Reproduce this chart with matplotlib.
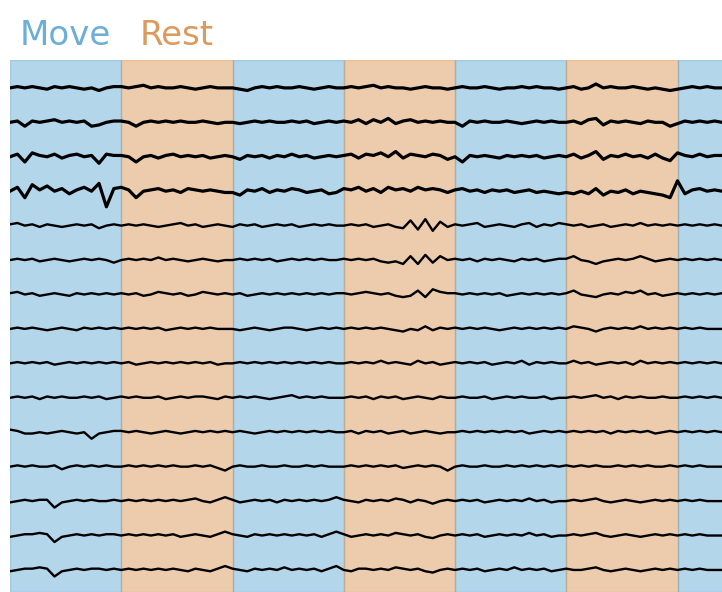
import numpy as np
import matplotlib.pyplot as plt

# block layout (seconds)
block_len = 5
blocks = ['Move', 'Rest', 'Move', 'Rest', 'Move', 'Rest', 'Move']
t_max = 32
colors = {'Move': '#6baed6', 'Rest': '#dc9a5c'}

# channel traces, deviation from baseline (approx. pixels, up = positive)
t0 = [0,1,0,1,0,-1,1,0,1,0,-1,0,-2,0,1,
      1,0,1,2,0,1,0,0,1,0,-1,0,1,0,0,
      0,-1,-2,0,1,0,1,0,0,1,0,-1,0,1,0,
      0,1,0,1,2,0,1,0,0,-1,0,1,0,0,-1,
      0,1,0,0,1,0,-1,0,0,1,0,1,0,0,-1,
      0,1,-1,0,3,0,1,0,0,1,0,-1,0,-1,-2,
      -1,0,1,0,1,0,0]
t1 = [0,1,-3,1,0,1,2,0,1,0,1,-3,-2,0,1,
      1,0,-3,0,1,0,1,0,1,0,0,1,0,-1,0,
      0,-1,0,1,0,1,0,0,1,0,1,-1,0,1,0,
      1,0,2,-1,2,0,3,-1,1,2,0,1,0,1,0,
      0,-3,1,0,1,0,0,1,0,-1,0,1,0,1,0,
      0,1,-1,2,3,-2,1,0,1,0,-1,1,0,0,-3,
      -1,1,0,1,0,1,0]
t2 = [0,2,-4,3,1,0,2,-1,1,2,0,1,-5,2,1,
      1,0,-4,0,1,-1,1,2,0,1,0,1,-1,0,1,
      0,-2,1,0,1,-1,1,0,2,0,1,-1,0,1,0,
      1,2,-1,2,1,3,0,4,-1,2,1,0,2,1,-2,
      0,-4,1,0,1,0,-1,1,0,1,0,1,-1,0,1,
      0,2,-1,1,4,-2,1,0,2,0,1,-1,2,-1,-3,
      3,1,0,2,0,1,1]
t3 = [0,3,-5,5,1,4,0,2,-2,1,3,0,6,-12,2,
      3,1,-5,0,1,2,0,1,-1,2,1,0,1,0,-1,
      -1,-3,1,0,2,-1,1,0,2,1,-1,0,1,-2,-1,
      2,1,3,0,2,-1,3,1,2,0,3,1,2,1,-1,
      1,2,0,1,-1,1,0,1,-1,0,1,-1,0,-1,-2,
      -1,-2,0,-2,2,-3,0,-1,1,-2,0,-1,-2,-3,-5,
      8,-2,1,2,0,1,0]
t4 = [1,2,0,1,-1,1,0,-1,0,1,0,1,-2,0,1,
      0,1,0,1,0,-1,0,1,2,0,1,-1,0,1,0,
      -1,1,0,1,-1,0,1,0,1,-1,0,1,0,1,0,
      0,1,0,1,-1,0,1,-1,-2,4,-3,5,-4,3,-1,
      1,0,1,2,-1,0,1,0,-1,1,2,-1,1,0,2,
      1,0,1,-1,0,1,-1,0,1,0,2,0,1,0,1,
      0,1,0,1,0,1,0]
t5 = [0,1,0,1,-1,0,1,0,-1,0,1,0,1,0,-2,
      0,1,0,1,0,2,0,1,0,-1,0,1,0,-1,0,
      0,1,0,1,0,1,-1,0,1,0,1,0,1,0,0,
      1,0,1,0,1,-1,-2,-1,-3,3,-3,4,-2,3,0,
      1,0,1,-1,1,0,1,0,-1,1,0,1,-1,0,1,
      1,3,0,-1,-3,-1,0,1,0,1,3,1,-1,0,1,
      0,1,0,1,0,1,0]
t6 = [1,2,0,1,-1,0,1,0,-1,1,0,1,0,1,0,
      1,0,1,-1,0,2,1,0,1,-1,0,2,1,0,1,
      0,1,-1,0,1,0,1,0,1,0,1,0,1,0,1,
      1,0,1,2,1,0,1,-1,-2,-1,3,-2,4,2,1,
      1,0,1,0,1,0,1,-1,0,1,0,1,0,1,0,
      1,3,0,-1,-2,0,1,0,2,1,3,0,1,-1,0,
      1,0,1,0,1,0,1]
t7 = [0,1,0,1,0,-1,0,1,0,-1,1,0,1,0,1,
      0,1,0,1,0,1,-1,0,1,0,1,0,1,0,0,
      0,-1,0,1,0,-1,0,1,1,0,-1,0,1,0,1,
      0,1,0,1,0,1,0,-1,-2,0,-1,2,-1,1,0,
      1,0,1,0,1,0,-1,0,1,0,1,0,1,0,1,
      0,2,1,0,-2,0,1,0,1,0,2,0,1,0,1,
      0,1,0,1,0,0,0]
t8 = [0,1,0,1,0,1,-1,0,1,0,1,0,1,0,1,
      0,1,-1,0,1,0,1,0,1,0,1,0,1,-1,0,
      0,1,0,1,0,1,0,1,0,1,0,1,0,1,0,
      0,1,0,1,0,2,0,1,0,-1,2,0,1,-1,0,
      1,0,1,0,1,-1,0,1,0,2,-1,1,0,1,0,
      0,2,0,1,-1,0,1,0,1,-1,2,0,1,0,1,
      0,1,0,1,0,1,0]
t9 = [0,1,0,1,-1,1,0,1,0,0,1,0,1,-1,0,
      1,0,1,0,0,1,-1,0,1,0,1,1,0,-1,1,
      0,1,0,1,0,-1,0,1,2,0,1,0,1,0,0,
      0,1,0,1,-1,1,0,1,-1,0,1,0,-1,1,0,
      0,1,0,0,1,-1,0,1,0,1,0,0,1,-1,0,
      0,1,0,1,2,0,1,-1,1,0,1,0,0,1,0,
      0,1,0,1,0,1,0]
t10 = [2,1,-1,-1,0,-1,0,1,0,-1,0,-5,-1,0,1,
       1,0,1,0,-1,0,1,0,-1,0,1,0,1,0,1,
       0,1,0,-1,0,1,0,1,0,1,0,1,0,1,0,
       0,1,-1,1,0,1,-1,0,1,-1,0,1,0,-1,0,
       0,1,0,1,0,1,0,1,0,1,-1,0,1,0,1,
       0,1,0,1,0,1,-1,1,0,1,0,1,-1,0,1,
       0,1,0,1,0,1,0]
t11 = [0,1,0,1,0,0,1,-2,0,1,0,1,0,1,0,
       0,1,0,1,0,1,0,1,0,0,1,0,1,-1,-3,
       0,1,0,0,1,0,0,1,0,0,1,0,1,0,0,
       0,1,0,1,0,1,0,1,-1,0,1,0,1,0,-3,
       0,1,0,0,1,0,0,1,0,1,0,1,0,1,0,
       1,0,1,0,1,0,0,1,0,1,0,1,0,0,1,
       0,1,0,1,0,0,0]
t12 = [-1,0,1,0,1,1,-5,-1,0,1,0,1,0,0,1,
       0,1,0,1,0,1,0,1,0,1,2,0,-1,1,3,
       1,-1,0,1,0,1,-1,1,0,1,0,1,0,1,3,
       1,0,-1,1,0,1,0,2,1,-1,1,0,-2,0,1,
       0,1,0,1,-1,0,1,0,1,0,2,0,1,-1,0,
       0,1,0,1,2,0,-1,0,1,0,-1,0,1,0,1,
       0,1,0,1,0,0,0]
t13 = [-1,0,1,1,2,1,-5,-1,0,1,0,1,0,1,1,
       0,1,0,1,0,1,0,1,-1,0,1,0,-1,1,3,
       1,0,-1,1,0,1,0,1,0,1,0,1,-1,1,3,
       1,-1,0,1,0,1,0,2,1,0,1,-1,-2,0,1,
       0,1,0,1,-1,0,1,0,1,0,2,0,1,-1,0,
       0,1,0,1,2,0,-1,0,1,0,-1,0,1,0,1,
       0,1,0,1,0,0,0]
t14 = [-1,0,1,1,2,1,-5,-1,0,1,0,1,1,0,1,
       0,1,0,1,0,1,0,1,0,-1,1,0,-1,1,3,
       1,0,-1,1,0,1,0,2,0,1,0,1,-1,1,3,
       0,-1,1,1,0,1,0,2,1,0,1,-1,-2,0,1,
       0,1,0,1,-1,0,1,0,2,0,1,0,1,-1,0,
       1,0,0,1,2,0,-1,0,1,0,-1,0,1,0,1,
       0,1,0,1,0,0,0]
traces = [t0, t1, t2, t3, t4, t5, t6, t7, t8, t9, t10, t11, t12, t13, t14]

px_per_unit = 34.4  # spacing between channels
gain = 1.3

fig = plt.figure(figsize=(7.22, 5.92), dpi=100)
ax = fig.add_axes([10 / 722, 0, 1 - 10 / 722, 1 - 60 / 592])

for i, name in enumerate(blocks):
    ax.axvspan(i * block_len, (i + 1) * block_len, color=colors[name], alpha=0.5, lw=1)

for i, tr in enumerate(traces):
    tr = np.array(tr, dtype=float)
    x = np.linspace(0, t_max, len(tr))
    lw = 2.3 if i < 4 else 1.7
    ax.plot(x, -i + gain * tr / px_per_unit, color='k', lw=lw, solid_joinstyle='round')

ax.set_xlim(0, t_max)
ax.set_ylim(-14.64, 0.81)
ax.axis('off')

fig.text(20 / 722, 1 - 45 / 592, 'Move', color=colors['Move'], fontsize=24.5)
fig.text(140 / 722, 1 - 45 / 592, 'Rest', color=colors['Rest'], fontsize=24.5)

fig.savefig('out.png', dpi=100)
